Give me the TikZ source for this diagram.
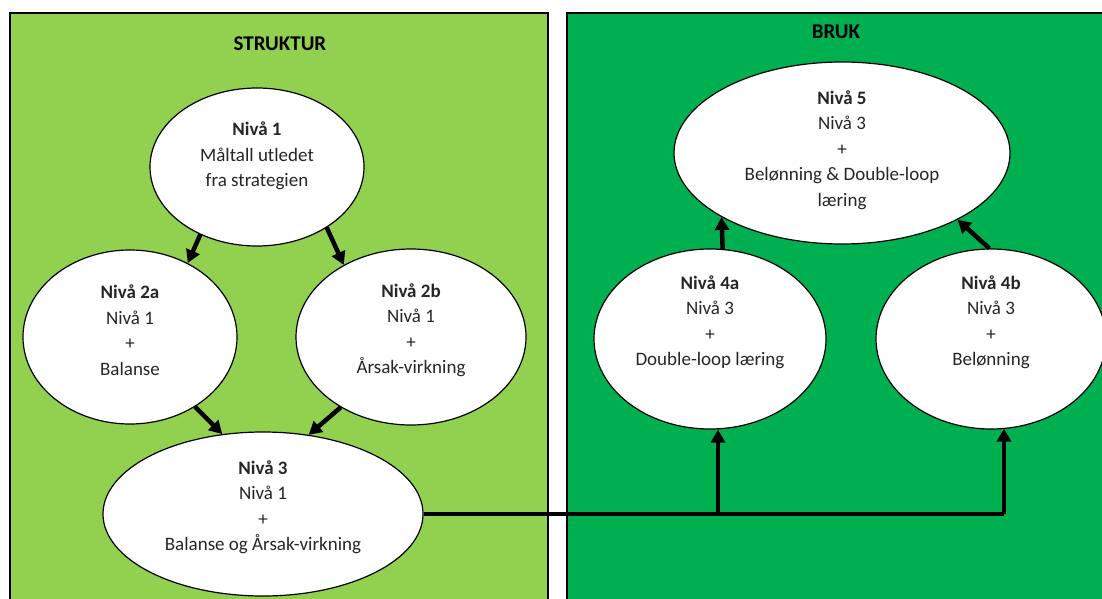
\documentclass[tikz,border=0pt]{standalone}
\usepackage{fontspec}
\setmainfont{Carlito}
\usetikzlibrary{shapes.geometric,arrows.meta}
\definecolor{lightgreen}{HTML}{92D050}
\definecolor{darkgreen}{HTML}{00B050}
\definecolor{ink}{HTML}{262626}
\tikzset{
  panel/.style={draw=black, line width=2.4pt},
  level/.style={ellipse, draw=black, line width=1.2pt, fill=white, inner sep=0pt},
  txt/.style={align=center, text=ink, font=\fontsize{19}{25.5}\selectfont, inner sep=0pt},
  title/.style={text=black, font=\fontsize{21}{24}\selectfont\bfseries, inner sep=0pt},
  flow/.style={line width=4.5pt, -{Triangle[length=13pt,width=14pt]}},
  link/.style={line width=4.5pt}
}
\begin{document}
\begin{tikzpicture}[x=1pt,y=-1pt]
\useasboundingbox (0,0) rectangle (1102,599);
\clip (0,0) rectangle (1102,599);

% two panels
\draw[panel, fill=lightgreen] (10,13) rectangle (548,630);
\draw[panel, fill=darkgreen] (567,13) rectangle (1140,630);
\node[title] (tstruktur) at (280,44) {STRUKTUR};
\node[title] (tbruk) at (836,32) {BRUK};

% levels
\node[level, minimum width=214, minimum height=158] (n1) at (257,167) {};
\node[txt] (n1t) at (257,156) {\textbf{Nivå 1}\\Måltall utledet\\fra strategien};

\node[level, minimum width=214, minimum height=174] (n2a) at (130,337) {};
\node[txt] (n2at) at (130,330) {\textbf{Nivå 2a}\\Nivå 1\\+\\Balanse};

\node[level, minimum width=230, minimum height=176] (n2b) at (411,337) {};
\node[txt] (n2bt) at (411,330) {\textbf{Nivå 2b}\\Nivå 1\\+\\Årsak-virkning};

\node[level, minimum width=320, minimum height=164] (n3) at (263,514) {};
\node[txt] (n3t) at (263,507) {\textbf{Nivå 3}\\Nivå 1\\+\\Balanse og Årsak-virkning};

\node[level, minimum width=336, minimum height=182] (n5) at (842,153) {};
\node[txt] (n5t) at (842,150) {\textbf{Nivå 5}\\Nivå 3\\+\\Belønning \& Double-loop\\læring};

\node[level, minimum width=232, minimum height=180] (n4a) at (710,339) {};
\node[txt] (n4at) at (710,322) {\textbf{Nivå 4a}\\Nivå 3\\+\\Double-loop læring};

\node[level, minimum width=230, minimum height=180] (n4b) at (991,339) {};
\node[txt] (n4bt) at (991,322) {\textbf{Nivå 4b}\\Nivå 3\\+\\Belønning};

% structure arrows
\draw[flow] (n1.230) -- (n2a.52);
\draw[flow] (n1.319) -- (n2b.133);
\draw[flow] (n2a.313) -- (n3.117);
\draw[flow] (n2b.225) -- (n3.60);

% use arrows
\coordinate (j4a) at (718,514);
\coordinate (j4b) at (1004,514);
\draw[link] (n3.east) -- (j4b);
\draw[flow] (j4a) -- (j4a |- n4a.south);
\draw[flow] (j4b) -- ([yshift=1pt]j4b |- n4b.south);
\draw[flow] (n4a.82) -- (n5.208);
\draw[flow] (n4b.91) -- (n5.330);
\end{tikzpicture}
\end{document}
